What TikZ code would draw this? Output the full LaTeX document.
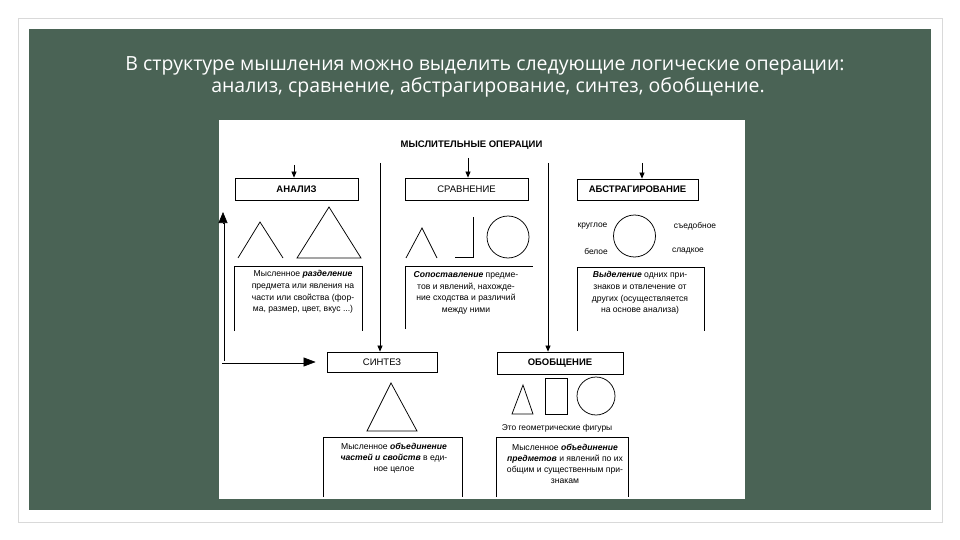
\documentclass[tikz,border=0pt]{standalone}
\usepackage{fontspec}
\setmainfont{Liberation Sans}
\newfontfamily\titlefont{Open Sans}
\usetikzlibrary{arrows.meta,calc}
\definecolor{slidegreen}{RGB}{74,99,85}
\definecolor{framegray}{RGB}{217,217,217}
\begin{document}
\begin{tikzpicture}[x=1pt,y=-1pt,
  ln/.style={draw=black, line width=0.75pt},
  opbox/.style={draw=black, line width=0.8pt, inner sep=0pt, font=\fontsize{9.5}{11}\selectfont},
  desc/.style={align=center, inner sep=0pt, font=\fontsize{8.6}{11.6}\selectfont},
  lbl/.style={inner sep=0pt, font=\fontsize{8.4}{10}\selectfont},
  arr/.style={ln, -{Triangle[length=6pt,width=5pt]}},
  titletext/.style={text=white, inner sep=0pt, anchor=base, font=\titlefont\fontsize{19.5}{22}\selectfont},
]
\useasboundingbox (0,0) rectangle (960,540);
\fill[white] (0,0) rectangle (960,540);
\draw[framegray, line width=0.8pt] (18,18) rectangle (942,522);
\fill[slidegreen] (29,29) rectangle (931,510);
\node[titletext] (title1) at (485,71) {В структуре мышления можно выделить следующие логические операции:};
\node[titletext] (title2) at (488,92.5) {анализ, сравнение, абстрагирование, синтез, обобщение.};
\fill[white] (219,120) rectangle (745,499);

% header
\node[inner sep=0pt, font=\bfseries\fontsize{9.5}{11}\selectfont] (head) at (471.5,145) {МЫСЛИТЕЛЬНЫЕ ОПЕРАЦИИ};

% operation boxes
\node[opbox, font=\bfseries\fontsize{9.5}{11}\selectfont, minimum width=123pt, minimum height=22pt] (analiz) at (296.5,189) {АНАЛИЗ};
\node[opbox, minimum width=123pt, minimum height=22pt] (sravn) at (466.5,189) {СРАВНЕНИЕ};
\node[opbox, font=\bfseries\fontsize{9.5}{11}\selectfont, minimum width=121pt, minimum height=21pt] (abstr) at (637.5,189.5) {АБСТРАГИРОВАНИЕ};
\node[opbox, minimum width=110pt, minimum height=20pt] (sintez) at (382,362) {СИНТЕЗ};
\node[opbox, font=\bfseries\fontsize{9.5}{11}\selectfont, minimum width=126pt, minimum height=22pt] (obob) at (560,363) {ОБОБЩЕНИЕ};

% connectors
\coordinate (a1) at (294,165);
\coordinate (a2) at (468,158);
\coordinate (a3) at (642,163);
\coordinate (s1) at (380,163);
\coordinate (o1) at (548,163);
\draw[arr] (a1) -- (a1 |- analiz.north);
\draw[arr] (a2) -- (a2 |- sravn.north);
\draw[arr] (a3) -- (a3 |- abstr.north);
\draw[arr] (s1) -- (s1 |- sintez.north);
\draw[arr] (o1) -- (o1 |- obob.north);

% double feedback arrow
\coordinate (d1) at (223,212);
\coordinate (d2) at ($(d1)+(0,11)$);
\coordinate (e1) at ($(sintez.west)+(-11,0)$);
\coordinate (e2) at ($(sintez.west)+(-23,0)$);
\draw[black, line width=3pt, line join=miter] (d2) -- (d2 |- sintez.west) -- (e2);
\draw[white, line width=1.4pt, line join=miter] (d2) -- (d2 |- sintez.west) -- (e2);
\draw[line width=0.6pt, -{Triangle[length=11pt,width=9pt]}] (d2) -- (d1);
\draw[line width=0.6pt, -{Triangle[length=12pt,width=9pt]}] (e2) -- (e1);

% analysis figures
\draw[ln] (238,258) -- (260,222) -- (283,258);
\draw[ln] (297,258) -- (329,207) -- (361,258) -- cycle;
% comparison figures
\draw[ln] (406,258) -- (422,228) -- (437,258);
\draw[ln] (455,257) -- (473,257) -- (473,217);
\draw[ln] (508,237) circle[radius=21];
% abstraction figures
\draw[ln] (634.5,236) circle[radius=21];
\node[lbl] (kr) at (592.5,226) {круглое};
\node[lbl] (sed) at (695,226) {съедобное};
\node[lbl] (bel) at (596,251) {белое};
\node[lbl] (sl) at (688,251) {сладкое};

% description frames
\draw[ln] (234,331) -- (234,266) -- (362,266) -- (362,331);
\draw[ln] (405,329) -- (405,266) -- (533,266);
\draw[ln] (577,331) -- (577,267) -- (704,267) -- (704,331);
\draw[ln] (323,497) -- (323,437) -- (462,437) -- (462,497);
\draw[ln] (496,497) -- (496,437) -- (628,437) -- (628,497);

\node[desc] (t1) at (303,292) {Мысленное \textbf{\textit{разделение}}\\ предмета или явления на\\ части или свойства (фор-\\ ма, размер, цвет, вкус ...)};
\node[desc] (t2) at (466,293) {\textbf{\textit{Сопоставление}} предме-\\ тов и явлений, нахожде-\\ ние сходства и различий\\ между ними};
\node[desc] (t3) at (640,293) {\textbf{\textit{Выделение}} одних при-\\ знаков и отвлечение от\\ других (осуществляется\\ на основе анализа)};

% synthesis
\draw[ln] (367,431) -- (391,383) -- (417,431) -- cycle;
\node[desc, font=\fontsize{8.6}{11}\selectfont] (t4) at (394,458) {Мысленное \textbf{\textit{объединение}}\\ \textbf{\textit{частей и свойств}} в еди-\\ ное целое};

% generalisation
\draw[ln] (512,414) -- (523,385) -- (533,414) -- cycle;
\draw[ln] (545,378) rectangle (567,414);
\draw[ln] (596,396) circle[radius=19];
\node[lbl] (geo) at (557,428) {Это геометрические фигуры};
\node[desc, font=\fontsize{8.6}{11}\selectfont] (t5) at (565,464) {Мысленное \textbf{\textit{объединение}}\\ \textbf{\textit{предметов}} и явлений по их\\ общим и существенным при-\\ знакам};
\end{tikzpicture}
\end{document}
